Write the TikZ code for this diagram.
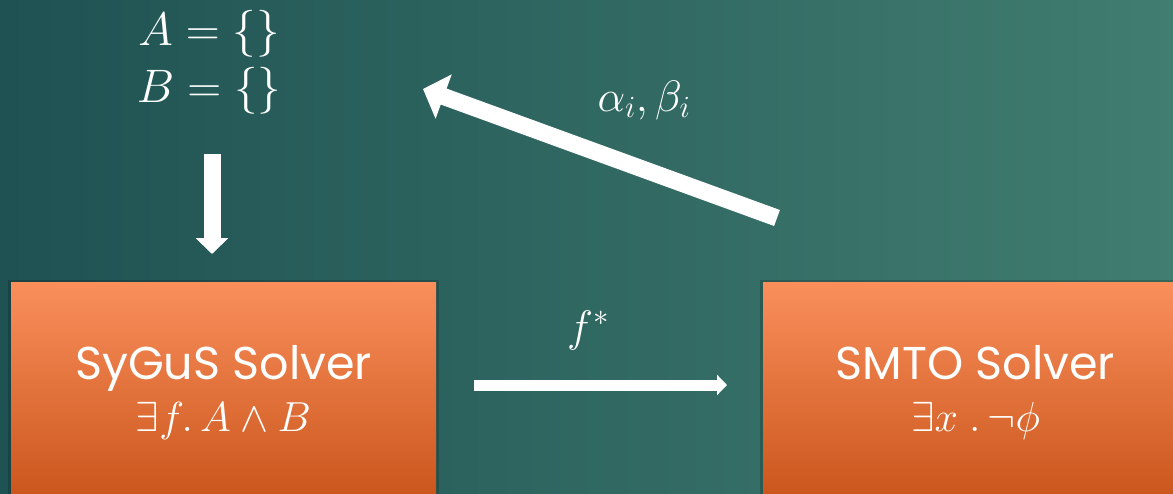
\RequirePackage{fix-cm}
\documentclass[tikz,border=0pt]{standalone}
\usepackage{fontspec}
\newfontfamily\pop{Poppins}
\usetikzlibrary{arrows.meta}
\definecolor{bgA}{HTML}{1F5253}
\definecolor{bgB}{HTML}{417D70}
\definecolor{orT}{HTML}{FA8F5C}
\definecolor{orM}{HTML}{EF814D}
\definecolor{orB}{HTML}{C9541A}
\begin{document}
\begin{tikzpicture}[x=1pt,y=-1pt,
  solver/.style={rectangle, minimum width=425pt, minimum height=222pt, inner sep=0pt,
    top color=orT, middle color=orM, bottom color=orB, text=white, align=center,
    font=\pop\fontsize{46}{52}\selectfont},
  boxshadow/.style={fill=black, opacity=0.18},
  lbl/.style={text=white, inner sep=0pt, font=\fontsize{44}{57}\selectfont},
  fat/.style={draw=white, line width=17pt, -{Triangle[length=16pt,width=32pt]}},
  thin/.style={draw=white, line width=11pt, -{Triangle[length=10pt,width=20pt]}}]
\useasboundingbox (0,0) rectangle (1173,493);
\clip (0,0) rectangle (1173,493);
\shade[left color=bgA, right color=bgB] (0,0) rectangle (1173,493);
% shadows
\fill[boxshadow] (8,280) rectangle (439,510);
\fill[boxshadow] (760,280) rectangle (1195,510);
% boxes
\node[solver] (syg) at (223.5,393) {SyGuS Solver\\ {\fontsize{42}{52}\selectfont$\exists f.\,A\wedge B$}};
\node[solver] (smto) at (975.5,393) {SMTO Solver\\ {\fontsize{42}{52}\selectfont$\exists x\ .\,\neg\phi$}};
% labels
\node[lbl, align=center, font=\fontsize{47}{57}\selectfont] (sets) at (209,62) {$A=\{\}$\\ $B=\{\}$};
\node[lbl] (ab) at (644,100) {$\alpha_i,\beta_i$};
\node[lbl] (fs) at (588,330) {$f^*$};
% connectors
\coordinate (d1) at (212,154);
\coordinate (d2) at (212,254);
\coordinate (u1) at (777,218);
\coordinate (u2) at (423,89);
\coordinate (h1) at (474,385);
\coordinate (h2) at (727,385);
\draw[fat] (d1) -- (d2);
\draw[fat, -{Triangle[length=22pt,width=46pt]}] (u1) -- (u2);
\draw[thin] (h1) -- (h2);
\end{tikzpicture}
\end{document}
